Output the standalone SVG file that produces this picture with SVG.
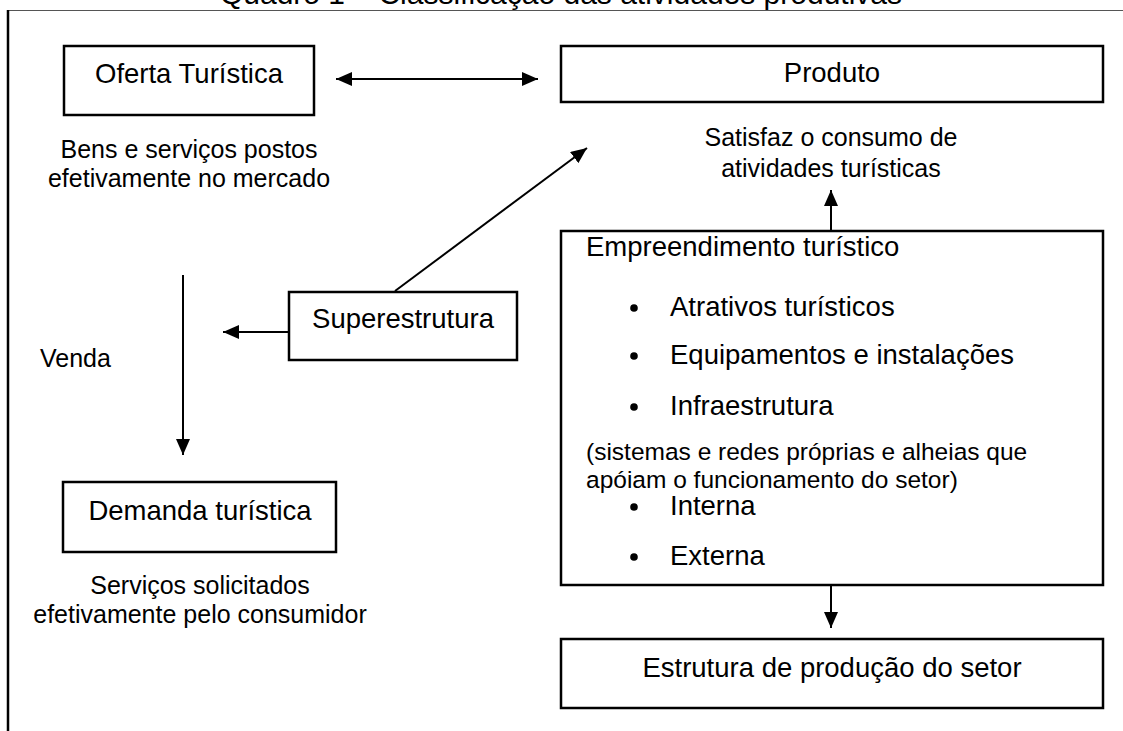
<svg xmlns="http://www.w3.org/2000/svg" width="1123" height="731" viewBox="0 0 1123 731">
  <defs>
    <style>
      .box { fill: #fff; stroke: #000; stroke-width: 2.5; }
      .t { font-family: "Liberation Sans", Arial, sans-serif; fill: #000; }
      .lg { font-size: 27.5px; }
      .md { font-size: 25px; }
      .sm { font-size: 24.5px; }
      .c { text-anchor: middle; }
      .con { stroke: #000; stroke-width: 2; fill: none; }
    </style>
    <marker id="ah" markerUnits="userSpaceOnUse" markerWidth="16" markerHeight="14" refX="16" refY="7" orient="auto-start-reverse">
      <path d="M0,0 L16,7 L0,14 z" fill="#000"/>
    </marker>
  </defs>
  <rect width="1123" height="731" fill="#fff"/>

  <g id="frame">
    <text class="t c" x="561" y="4" font-size="30">Quadro 1 – Classificação das atividades produtivas</text>
    <line x1="8" y1="10.5" x2="1123" y2="10.5" stroke="#555" stroke-width="1.2"/>
    <line x1="8" y1="10" x2="8" y2="731" stroke="#000" stroke-width="2.5"/>
  </g>

  <g id="connectors">
    <line class="con" x1="336" y1="79" x2="538" y2="79" marker-start="url(#ah)" marker-end="url(#ah)"/>
    <line class="con" x1="395" y1="291" x2="587" y2="148" marker-end="url(#ah)"/>
    <line class="con" x1="289" y1="332" x2="223" y2="332" marker-end="url(#ah)"/>
    <line class="con" x1="183" y1="275" x2="183" y2="455" marker-end="url(#ah)"/>
    <line class="con" x1="831" y1="231" x2="831" y2="190" marker-end="url(#ah)"/>
    <line class="con" x1="831" y1="585" x2="831" y2="628" marker-end="url(#ah)"/>
  </g>

  <g id="oferta">
    <rect class="box" x="64" y="46" width="250" height="69"/>
    <text class="t lg c" x="189" y="83">Oferta Turística</text>
  </g>
  <g id="oferta-desc">
    <text class="t md c" x="189" y="158">Bens e serviços postos</text>
    <text class="t md c" x="189" y="187">efetivamente no mercado</text>
  </g>

  <g id="produto">
    <rect class="box" x="561" y="46" width="542" height="56"/>
    <text class="t lg c" x="832" y="82">Produto</text>
  </g>
  <g id="produto-desc">
    <text class="t md c" x="831" y="146">Satisfaz o consumo de</text>
    <text class="t md c" x="831" y="177">atividades turísticas</text>
  </g>

  <g id="superestrutura">
    <rect class="box" x="289" y="292" width="228" height="68"/>
    <text class="t lg c" x="403" y="328">Superestrutura</text>
  </g>

  <g id="venda">
    <text class="t md" x="40" y="367">Venda</text>
  </g>

  <g id="empreendimento">
    <rect class="box" x="561" y="231" width="542" height="354"/>
    <text class="t lg" x="586" y="256">Empreendimento turístico</text>
    <circle cx="634" cy="308" r="3.8"/>
    <text class="t lg" x="670" y="316">Atrativos turísticos</text>
    <circle cx="634" cy="356" r="3.8"/>
    <text class="t lg" x="670" y="364">Equipamentos e instalações</text>
    <circle cx="634" cy="407" r="3.8"/>
    <text class="t lg" x="670" y="415">Infraestrutura</text>
    <text class="t sm" x="586" y="460">(sistemas e redes próprias e alheias que</text>
    <text class="t sm" x="586" y="488">apóiam o funcionamento do setor)</text>
    <circle cx="634" cy="507" r="3.8"/>
    <text class="t lg" x="670" y="515">Interna</text>
    <circle cx="634" cy="557" r="3.8"/>
    <text class="t lg" x="670" y="565">Externa</text>
  </g>

  <g id="demanda">
    <rect class="box" x="63" y="482" width="273" height="70"/>
    <text class="t lg c" x="200" y="520">Demanda turística</text>
  </g>
  <g id="demanda-desc">
    <text class="t md c" x="200" y="594">Serviços solicitados</text>
    <text class="t md c" x="200" y="623">efetivamente pelo consumidor</text>
  </g>

  <g id="estrutura">
    <rect class="box" x="561" y="639" width="542" height="69"/>
    <text class="t lg c" x="832" y="677">Estrutura de produção do setor</text>
  </g>
</svg>
